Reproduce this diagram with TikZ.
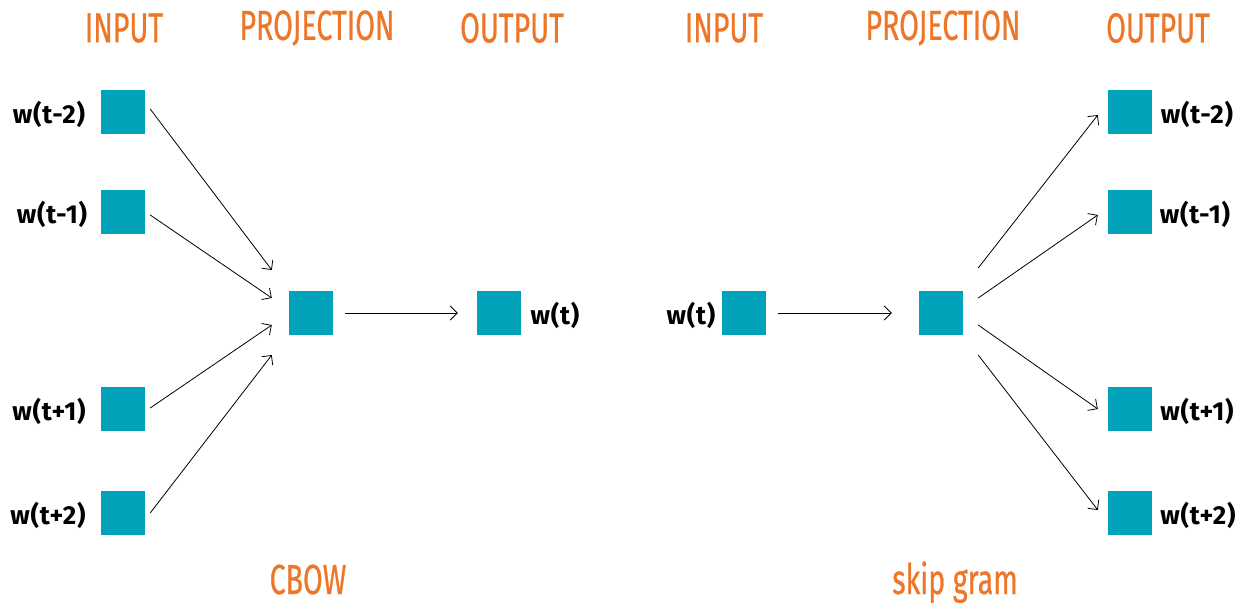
\documentclass[tikz,border=0pt]{standalone}
\usepackage{fontspec}
\setmainfont{Fira Sans}[FakeStretch=0.68,FakeBold=0.6]
\newfontfamily\labfont{Fira Sans}[LetterSpace=3]
\usetikzlibrary{calc,arrows.meta}
\definecolor{teal1}{HTML}{00A3B9}
\definecolor{orange1}{HTML}{EE7628}
\begin{document}
\begin{tikzpicture}[x=1pt,y=-1pt,
  box/.style={fill=teal1,minimum size=44pt,inner sep=0pt,draw=none},
  head/.style={text=orange1,font=\fontsize{42}{42}\selectfont,inner sep=0pt},
  lab/.style={text=black,font=\labfont\bfseries\fontsize{26}{26}\selectfont,inner sep=0pt},
  arr/.style={-{Straight Barb[length=7pt,width=14pt]},line width=0.8pt}]
\useasboundingbox (0,0) rectangle (1243,605);
% headers
\node[head] (h1) at (124,28) {INPUT};
\node[head] (h2) at (317,28) {PROJECTION};
\node[head] (h3) at (512,28) {OUTPUT};
\node[head] (h4) at (724,28) {INPUT};
\node[head] (h5) at (943,28) {PROJECTION};
\node[head] (h6) at (1158,28) {OUTPUT};
\node[head,anchor=base] (c1) at (308,594) {CBOW};
\node[head,anchor=base] (c2) at (955,594) {skip gram};
% CBOW
\node[box] (i1) at (123,112) {};
\node[box] (i2) at (123,212) {};
\node[box] (i3) at (123,409) {};
\node[box] (i4) at (123,513) {};
\node[box] (p) at (311,313) {};
\node[box] (o) at (499,313) {};
\node[lab] (l1) at (49,114) {w(t-2)};
\node[lab] (l2) at (52,214) {w(t-1)};
\node[lab] (l3) at (49,411) {w(t+1)};
\node[lab] (l4) at (48,515) {w(t+2)};
\node[lab] (lo) at (555,315) {w(t)};
\draw[arr] ([xshift=5pt,yshift=3pt]i1.east) -- ([xshift=-17pt,yshift=43pt]p.west);
\draw[arr] ([xshift=5pt,yshift=-3pt]i2.east) -- ([xshift=-17pt,yshift=15pt]p.west);
\draw[arr] ([xshift=5pt,yshift=1pt]i3.east) -- ([xshift=-17pt,yshift=-12pt]p.west);
\draw[arr] ([xshift=5pt]i4.east) -- ([xshift=-17pt,yshift=-42pt]p.west);
\draw[arr] ([xshift=12pt]p.east) -- ([xshift=-19pt]o.west);
% skip gram
\node[box] (si) at (744,313) {};
\node[box] (sp) at (941,313) {};
\node[box] (so1) at (1130,112) {};
\node[box] (so2) at (1130,212) {};
\node[box] (so3) at (1130,409) {};
\node[box] (so4) at (1130,513) {};
\node[lab] (sli) at (691,315) {w(t)};
\node[lab] (sl1) at (1197,114) {w(t-2)};
\node[lab] (sl2) at (1195,214) {w(t-1)};
\node[lab] (sl3) at (1197,411) {w(t+1)};
\node[lab] (sl4) at (1198,515) {w(t+2)};
\draw[arr] ([xshift=12pt]si.east) -- ([xshift=-27pt]sp.west);
\draw[arr] ([xshift=15pt,yshift=45pt]sp.east) -- ([xshift=-10pt,yshift=-3pt]so1.west);
\draw[arr] ([xshift=15pt,yshift=15pt]sp.east) -- ([xshift=-10pt,yshift=-3pt]so2.west);
\draw[arr] ([xshift=15pt,yshift=-12pt]sp.east) -- ([xshift=-10pt]so3.west);
\draw[arr] ([xshift=15pt,yshift=-42pt]sp.east) -- ([xshift=-10pt,yshift=3pt]so4.west);
\end{tikzpicture}
\end{document}
